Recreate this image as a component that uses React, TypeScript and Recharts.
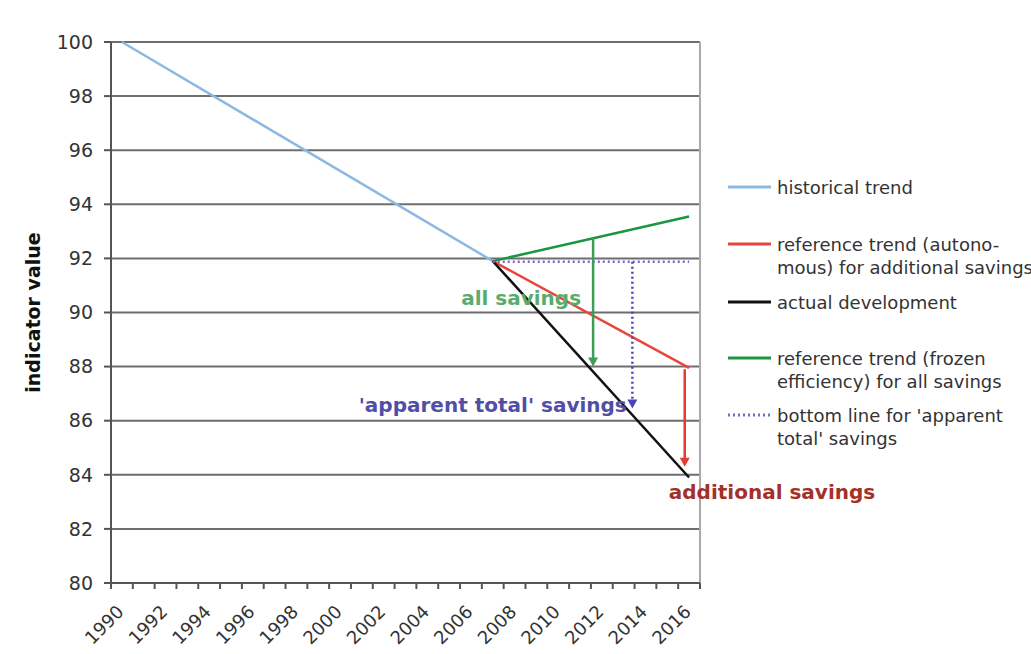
import React from "react";
import {
  ComposedChart,
  Line,
  XAxis,
  YAxis,
  CartesianGrid,
  ReferenceLine,
  ReferenceDot,
} from "recharts";

// data
const years = [1990, 2007, 2016];
const historical = [100, 91.9, null];
const autonomous = [null, 91.9, 87.95];
const actual = [null, 91.9, 83.9];
const frozen = [null, 91.9, 93.55];
const bottomLine = [null, 91.88, 91.88];

const yTicks = [80, 82, 84, 86, 88, 90, 92, 94, 96, 98, 100];
const boundaries = Array.from({ length: 28 }, (_, i) => 1989.5 + i);

// arrows: x, from, to
const arrows = [
  { name: "all", x: 2011.6, from: 92.74, to: 88.0, color: "#3e9e55", dash: undefined },
  { name: "apparent", x: 2013.4, from: 91.88, to: 86.45, color: "#4a44b8", dash: "2 3" },
  { name: "additional", x: 2015.8, from: 87.9, to: 84.3, color: "#e63b32", dash: undefined },
];

const notes = [
  { text: "all savings", x: 2008.3, y: 90.55, color: "#5bab6f" },
  { text: "'apparent total' savings", x: 2007.0, y: 86.6, color: "#4f4fa8" },
  { text: "additional savings", x: 2019.8, y: 83.36, color: "#a33128" },
];

const legendItems = [
  { lines: ["historical trend"], color: "#8cb8e4", dash: undefined, y: 188 },
  { lines: ["reference trend (autono-", "mous) for additional savings"], color: "#e8463c", dash: undefined, y: 245 },
  { lines: ["actual development"], color: "#111111", dash: undefined, y: 303 },
  { lines: ["reference trend (frozen", "efficiency) for all savings"], color: "#1a9641", dash: undefined, y: 359 },
  { lines: ["bottom line for 'apparent", "total' savings"], color: "#7b68c8", dash: "2 3", y: 416 },
];

const rows = years.map((year, i) => ({
  year,
  historical: historical[i],
  autonomous: autonomous[i],
  actual: actual[i],
  frozen: frozen[i],
  bottomLine: bottomLine[i],
}));

const W = 1031;
const H = 654;
const MARGIN = { top: 42, right: 331, bottom: 11, left: 51 };
const Y_W = 60;
const PLOT_W = W - MARGIN.left - MARGIN.right - Y_W;
const BAND = PLOT_W / 27;
const FONT = "'DejaVu Sans', Verdana, sans-serif";

function YearTick(props: any) {
  const { x, y, payload } = props;
  const year = payload.value + 0.5;
  if (year > 2016 || year % 2 !== 0) return null;
  const cx = x + BAND / 2 + 3;
  const cy = y + 22;
  return (
    <text
      x={cx}
      y={cy}
      textAnchor="end"
      fontSize={18}
      fontFamily={FONT}
      fill="#333"
      transform={`rotate(-45 ${cx} ${cy})`}
    >
      {year}
    </text>
  );
}

function Arrow(props: any) {
  const { x1, y1, x2, y2, stroke, strokeDasharray } = props;
  const dir = y2 > y1 ? 1 : -1;
  return (
    <g>
      <line x1={x1} y1={y1} x2={x2} y2={y2 - dir * 4} stroke={stroke} strokeWidth={2.5} strokeDasharray={strokeDasharray} />
      <polygon
        points={`${x2 - 5},${y2 - dir * 9} ${x2 + 5},${y2 - dir * 9} ${x2},${y2}`}
        fill={stroke}
      />
    </g>
  );
}

export default function App() {
  return (
    <div style={{ position: "absolute", left: 0, top: 0, width: W, height: H, background: "#fff" }}>
      <ComposedChart width={W} height={H} data={rows} margin={MARGIN}>
        <CartesianGrid vertical={false} stroke="#6e6e6e" strokeWidth={2} />
        <XAxis
          dataKey="year"
          type="number"
          domain={[1989.5, 2016.5]}
          ticks={boundaries}
          interval={0}
          height={60}
          tickSize={6}
          stroke="#555"
          strokeWidth={2}
          tick={<YearTick />}
        />
        <YAxis
          domain={[80, 100]}
          ticks={yTicks}
          interval={0}
          width={Y_W}
          tickSize={7}
          stroke="#555"
          strokeWidth={2}
          tick={{ fill: "#333", fontSize: 19, fontFamily: FONT, dx: -9 }}
          label={{
            value: "indicator value",
            angle: -90,
            position: "center",
            dx: -48,
            style: { fill: "#111", fontSize: 19, fontWeight: "bold", fontFamily: FONT },
          }}
        />
        <ReferenceLine x={2016.5} stroke="#aaa" strokeWidth={2} />
        <Line dataKey="historical" stroke="#8cb8e4" strokeWidth={2.5} dot={false} connectNulls isAnimationActive={false} />
        <Line dataKey="frozen" stroke="#1a9641" strokeWidth={2.5} dot={false} connectNulls isAnimationActive={false} />
        <Line dataKey="autonomous" stroke="#e8463c" strokeWidth={2.5} dot={false} connectNulls isAnimationActive={false} />
        <Line dataKey="actual" stroke="#111" strokeWidth={2.5} dot={false} connectNulls isAnimationActive={false} />
        <Line dataKey="bottomLine" stroke="#7b68c8" strokeWidth={2.5} strokeDasharray="2 3" dot={false} connectNulls isAnimationActive={false} />
        {arrows.map((a) => (
          <ReferenceLine
            key={a.name}
            segment={[{ x: a.x, y: a.from }, { x: a.x, y: a.to }]}
            stroke={a.color}
            strokeDasharray={a.dash}
            ifOverflow="visible"
            shape={<Arrow />}
          />
        ))}
        {notes.map((n) => (
          <ReferenceDot
            key={n.text}
            x={n.x}
            y={n.y}
            r={0}
            fill="none"
            stroke="none"
            ifOverflow="visible"
            label={{
              value: n.text,
              position: "center",
              fill: n.color,
              fontSize: 20,
              fontWeight: "bold",
              fontFamily: FONT,
            }}
          />
        ))}
      </ComposedChart>
      <svg style={{ position: "absolute", left: 0, top: 0 }} width={W} height={H}>
        {legendItems.map((it) => (
          <g key={it.lines[0]}>
            <line x1={728} x2={771} y1={it.y - 1} y2={it.y - 1} stroke={it.color} strokeWidth={3} strokeDasharray={it.dash} />
            {it.lines.map((l, j) => (
              <text key={l} x={777} y={it.y + 6 + j * 22.5} fontSize={18} fontFamily={FONT} fill="#333">
                {l}
              </text>
            ))}
          </g>
        ))}
      </svg>
    </div>
  );
}
